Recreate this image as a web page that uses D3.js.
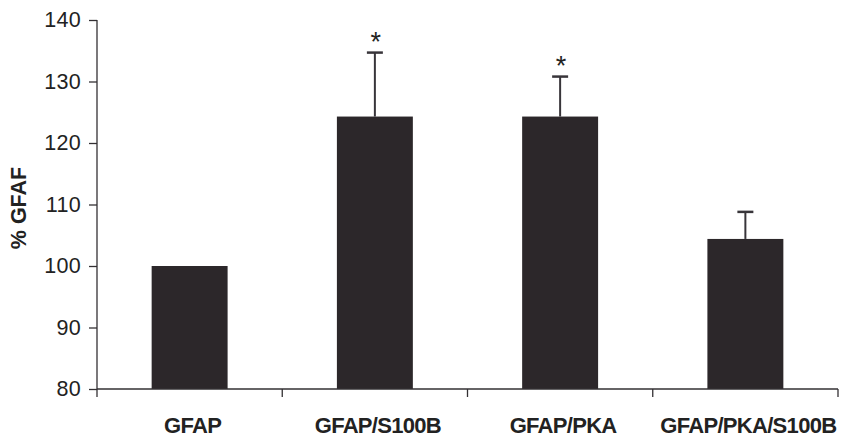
<!DOCTYPE html>
<html>
<head>
<meta charset="utf-8">
<script src="https://cdn.jsdelivr.net/npm/d3@7"></script>
<style>
  html, body { margin: 0; padding: 0; background: #ffffff; }
  svg { display: block; }
</style>
</head>
<body>
<svg id="chart" width="847" height="437"></svg>
<script>
const categories = ["GFAP", "GFAP/S100B", "GFAP/PKA", "GFAP/PKA/S100B"];
const values = [100, 124.3, 124.3, 104.4];
const errors = [0, 10.4, 6.5, 4.4];
const significant = [false, true, true, false];
const yTicks = [80, 90, 100, 110, 120, 130, 140];
const yLabel = "% GFAF";

(function () {
const svg = d3.select("#chart");
const mLeft = 97, mRight = 838, mTop = 20, mBottom = 389;

const x = d3.scaleBand().domain(categories).range([mLeft, mRight]).paddingInner(0.59).paddingOuter(0.295);
const xBins = d3.scaleBand().domain(categories).range([mLeft, mRight]).padding(0);
const y = d3.scaleLinear().domain([80, 140]).range([mBottom, mTop]);

const axisColor = "#333033";
const font = "Liberation Sans, Arial, sans-serif";

// bars
svg.append("g").selectAll("rect").data(categories).join("rect")
  .attr("x", d => x(d))
  .attr("width", x.bandwidth())
  .attr("y", (d, i) => y(values[i]))
  .attr("height", (d, i) => y(80) - y(values[i]))
  .attr("fill", "#2c272a");

// error bars
const eg = svg.append("g").attr("stroke", "#38353a").attr("stroke-width", 2);
categories.forEach((c, i) => {
  if (!errors[i]) return;
  const cx = x(c) + x.bandwidth() / 2;
  eg.append("line").attr("x1", cx).attr("x2", cx).attr("y1", y(values[i])).attr("y2", y(values[i] + errors[i]));
  eg.append("line").attr("x1", cx - 8).attr("x2", cx + 8).attr("y1", y(values[i] + errors[i])).attr("y2", y(values[i] + errors[i])).attr("stroke-width", 2.5);
  if (significant[i]) {
    svg.append("text").attr("x", cx + 1).attr("y", y(values[i] + errors[i]) - 2)
      .attr("text-anchor", "middle").attr("font-family", font)
      .attr("font-size", 27).attr("fill", "#222").text("*");
  }
});

// y axis
const yAxis = svg.append("g").attr("transform", `translate(${mLeft},0)`)
  .call(d3.axisLeft(y).tickValues(yTicks).tickSize(8).tickPadding(9).tickSizeOuter(0));
yAxis.select(".domain").attr("stroke", axisColor).attr("stroke-width", 1.3).attr("d", `M0,${mTop}V${mBottom + 8}`);
yAxis.selectAll(".tick line").attr("stroke", axisColor).attr("stroke-width", 1.3);
yAxis.selectAll(".tick text").attr("font-family", font)
  .attr("font-size", 21.5).attr("fill", "#222").attr("letter-spacing", 0.3).attr("dx", 1);

// x axis line with separator ticks
const xg = svg.append("g");
xg.append("line").attr("x1", mLeft).attr("x2", mRight).attr("y1", mBottom).attr("y2", mBottom)
  .attr("stroke", axisColor).attr("stroke-width", 1.3);
const bounds = categories.map(c => xBins(c)).concat([xBins(categories[categories.length - 1]) + xBins.bandwidth()]);
xg.selectAll("line.sep").data(bounds.slice(1)).join("line").attr("class", "sep")
  .attr("x1", d => d).attr("x2", d => d).attr("y1", mBottom).attr("y2", mBottom + 8)
  .attr("stroke", axisColor).attr("stroke-width", 1.3);
xg.selectAll("text").data(categories).join("text")
  .attr("x", d => x(d) + x.bandwidth() / 2 + 3)
  .attr("y", 433)
  .attr("text-anchor", "middle")
  .attr("font-family", font)
  .attr("font-weight", "bold").attr("font-size", 22).attr("letter-spacing", -0.7)
  .attr("fill", "#222").text(d => d);

// y label
svg.append("text")
  .attr("transform", "translate(26,208) rotate(-90)")
  .attr("text-anchor", "middle")
  .attr("font-family", font)
  .attr("font-weight", "bold").attr("font-size", 21.5).attr("fill", "#222")
  .text(yLabel);
})();
</script>
</body>
</html>
